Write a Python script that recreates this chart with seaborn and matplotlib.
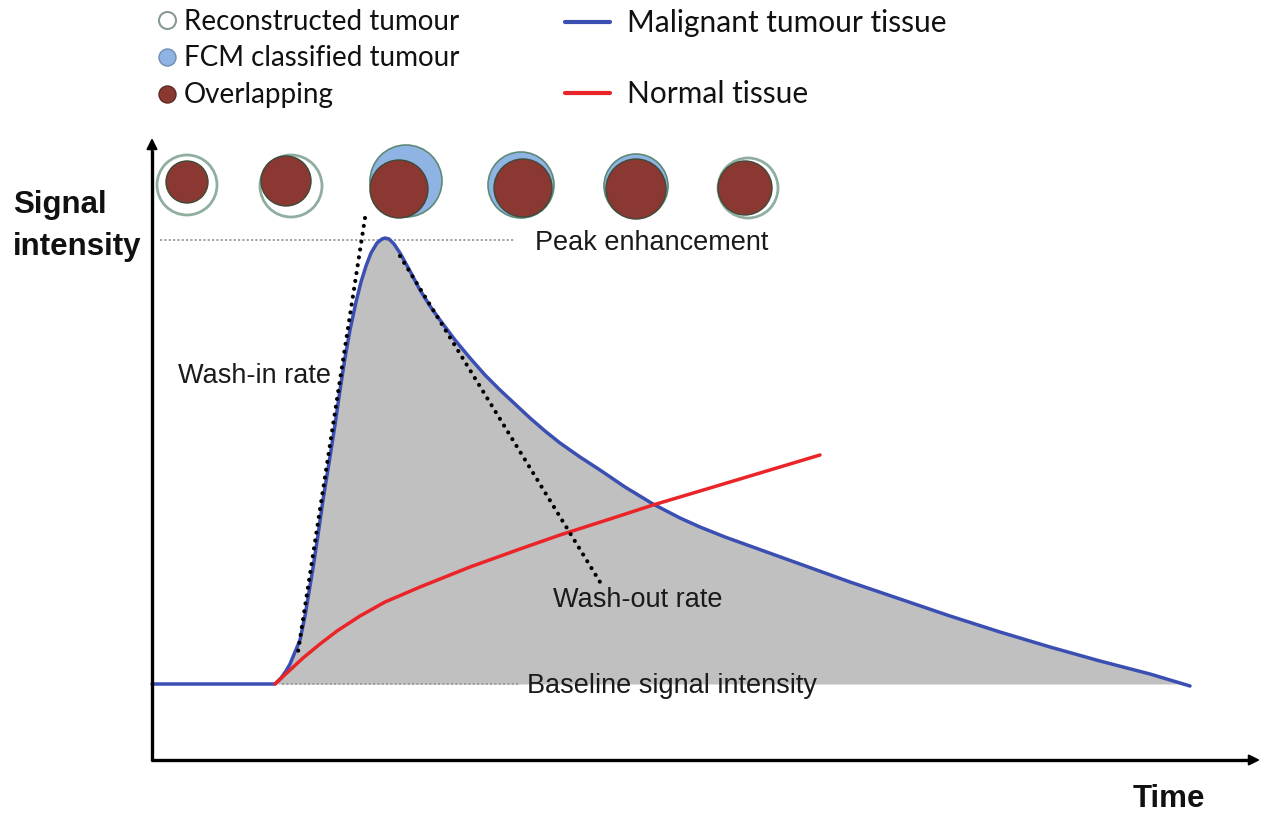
import matplotlib
matplotlib.use("Agg")
import matplotlib.pyplot as plt
from matplotlib.patches import Circle
import numpy as np
import pandas as pd
import seaborn as sns

# ---------------- data (time, signal in figure-pixel units) ----------------
baseline_level = 684
peak_level = 240

malignant_time = [152, 275, 281, 286, 290, 295, 300, 305, 309, 313, 318, 323, 329, 335,
                  340, 345, 350, 356, 361, 366, 371, 377, 382, 385, 389, 394, 400, 410,
                  420, 430, 440, 455, 470, 485, 500, 515, 530, 545, 560, 580, 600, 625,
                  653, 680, 700, 725, 750, 800, 850, 900, 950, 1000, 1050, 1100, 1150, 1190]
malignant_signal = [684, 684, 678, 671, 664, 652, 640, 616, 592, 568, 535, 500, 463, 425,
                    390, 358, 330, 302, 282, 266, 253, 243, 239, 238, 239, 244, 253, 271,
                    290, 306, 320, 340, 358, 375, 390, 404, 418, 431, 443, 457, 470, 487,
                    504, 518, 527, 537, 546, 564, 582, 599, 616, 632, 647, 661, 674, 686]

normal_time = [275, 283, 290, 303, 320, 337, 360, 385, 420, 470, 520, 560, 610, 653,
               700, 760, 820]
normal_signal = [684, 676.5, 670, 658, 644, 631, 616, 602, 587, 567, 549, 535, 519, 505,
                 491, 473, 455]

washin_time = [365, 298]
washin_signal = [218, 652]
washout_time = [400, 600]
washout_signal = [256, 582]

# tumour circles above the curve
outer_x = [187, 291, 406, 521, 636, 748]
outer_y = [185, 186, 181, 185, 186, 188]
outer_r = [30, 31, 36, 33, 32, 30]
outer_kind = ["reconstructed", "reconstructed", "fcm", "fcm", "fcm", "reconstructed"]
inner_x = [187, 286, 399, 523, 636, 745]
inner_y = [182, 181, 189, 188, 189, 188]
inner_r = [21, 25, 29, 29, 30, 27]

circle_legend = ["Reconstructed tumour", "FCM classified tumour", "Overlapping"]
line_legend = ["Malignant tumour tissue", "Normal tissue"]

# ---------------- style ----------------
sns.set_theme(style="white")
plt.rcParams["font.family"] = ["Liberation Sans", "DejaVu Sans"]

BLUE = "#3b4fb3"
RED = "#ea2428"
GRAY = "#c0c0c0"
BROWN = "#8c3832"
LIGHTBLUE = "#8fb4e3"

fig = plt.figure(figsize=(12.67, 8.13), dpi=100)
ax = fig.add_axes([0, 0, 1, 1])

mal = pd.DataFrame({"t": malignant_time, "s": malignant_signal})
nor = pd.DataFrame({"t": normal_time, "s": normal_signal})

# gray area under malignant curve
sel = mal[mal["t"] >= 275]
ax.fill_between(sel["t"], sel["s"], baseline_level, color=GRAY, lw=0, zorder=1)

# reference dotted lines
ax.plot([160, 515], [peak_level, peak_level], color="#9a9a9a", lw=1.3,
        linestyle=(0, (1.2, 1.2)), zorder=2)
ax.plot([282, 520], [baseline_level, baseline_level], color="#9a9a9a", lw=1.3,
        linestyle=(0, (1.2, 1.2)), zorder=2)

# curves
sns.lineplot(data=mal, x="t", y="s", color=BLUE, lw=2.5, sort=False,
             estimator=None, ax=ax, zorder=4)
sns.lineplot(data=nor, x="t", y="s", color=RED, lw=2.5, sort=False,
             estimator=None, ax=ax, zorder=5)

# rate tangents (dotted)
for tt, ss in [(washin_time, washin_signal), (washout_time, washout_signal)]:
    sns.lineplot(x=tt, y=ss, color="black", lw=3.0, sort=False, estimator=None,
                 linestyle=(0, (0.01, 1.9)), dash_capstyle="round", ax=ax, zorder=6)

# axes with arrows
ax.plot([152, 152], [761, 150], color="black", lw=2.4, solid_capstyle="butt", zorder=7)
ax.plot([151, 1250], [760, 760], color="black", lw=2.4, solid_capstyle="butt", zorder=7)
ax.annotate("", xy=(152, 138), xytext=(152, 156),
            arrowprops=dict(arrowstyle="-|>", lw=1.5, color="black", mutation_scale=16,
                            shrinkA=0, shrinkB=0), zorder=7)
ax.annotate("", xy=(1260, 760), xytext=(1242, 760),
            arrowprops=dict(arrowstyle="-|>", lw=1.5, color="black", mutation_scale=16,
                            shrinkA=0, shrinkB=0), zorder=7)

# circles
for x, y, r, k in zip(outer_x, outer_y, outer_r, outer_kind):
    if k == "reconstructed":
        ax.add_patch(Circle((x, y), r, facecolor="white", edgecolor="#8fae9f", lw=2.0, zorder=3))
    else:
        ax.add_patch(Circle((x, y), r, facecolor=LIGHTBLUE, edgecolor="#5d8a78", lw=1.2, zorder=3))
for x, y, r in zip(inner_x, inner_y, inner_r):
    ax.add_patch(Circle((x, y), r, facecolor=BROWN, edgecolor="#3e4a38", lw=1.0, zorder=4))

# annotations
lab = dict(fontsize=19.5, color="#1a1a1a", va="baseline", ha="left", zorder=8)
ax.text(535, 250, "Peak enhancement", **lab)
ax.text(178, 383, "Wash-in rate", **lab)
ax.text(553, 607, "Wash-out rate", **lab)
ax.text(527, 693, "Baseline signal intensity", **lab)

ax.text(13, 213, "Signal", fontsize=22.5, fontweight="bold", color="#111111", va="baseline")
ax.text(13, 255, "intensity", fontsize=22.5, fontweight="bold", color="#111111", va="baseline")
ax.text(1133, 807, "Time", fontsize=22.5, fontweight="bold", color="#111111", va="baseline")

# legend (drawn in place)
leg_font = ["Lato", "DejaVu Sans"]
leg_y = [30, 66, 103]
ax.scatter([167], [20], s=150, facecolor="white", edgecolor="#8a9a90", lw=1.5, zorder=8)
ax.scatter([167], [57], s=150, facecolor=LIGHTBLUE, edgecolor="#6d8fb3", lw=1.0, zorder=8)
ax.scatter([167], [94], s=150, facecolor=BROWN, edgecolor="#5a2a22", lw=1.0, zorder=8)
for txt, y in zip(circle_legend, leg_y):
    ax.text(184, y, txt, fontsize=20, family=leg_font, color="#111111", va="baseline")

ax.plot([565, 610], [22, 22], color=BLUE, lw=3)
ax.plot([565, 610], [93, 93], color=RED, lw=3)
ax.text(627, 32, line_legend[0], fontsize=21.5, family=leg_font, color="#111111", va="baseline")
ax.text(627, 103, line_legend[1], fontsize=21.5, family=leg_font, color="#111111", va="baseline")

ax.set_xlim(0, 1267)
ax.set_ylim(813, 0)
ax.axis("off")

fig.savefig("out.png", dpi=100)
